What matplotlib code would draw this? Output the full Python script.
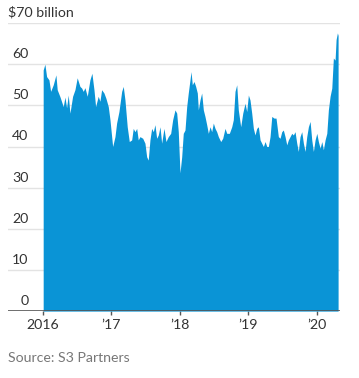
import matplotlib
matplotlib.use("Agg")
from matplotlib import pyplot as plt

# decimal year, value in $ billion
years = [2016.004, 2016.029, 2016.054, 2016.088, 2016.113, 2016.151, 2016.190, 2016.209,
         2016.249, 2016.297, 2016.322, 2016.346, 2016.370, 2016.395, 2016.434, 2016.468,
         2016.501, 2016.541, 2016.566, 2016.589, 2016.614, 2016.648, 2016.687, 2016.716,
         2016.746, 2016.770, 2016.808, 2016.833, 2016.858, 2016.892, 2016.921, 2016.955,
         2016.980, 2017.019, 2017.053, 2017.077, 2017.111, 2017.151, 2017.174, 2017.199,
         2017.232, 2017.262, 2017.297, 2017.320, 2017.345, 2017.370, 2017.393, 2017.418,
         2017.458, 2017.491, 2017.516, 2017.539, 2017.564, 2017.589, 2017.613, 2017.637,
         2017.662, 2017.686, 2017.711, 2017.735, 2017.769, 2017.798, 2017.832, 2017.867,
         2017.896, 2017.930, 2017.955, 2017.978, 2018.003, 2018.028, 2018.051, 2018.076,
         2018.101, 2018.124, 2018.149, 2018.164, 2018.183, 2018.208, 2018.232, 2018.256,
         2018.271, 2018.295, 2018.320, 2018.344, 2018.368, 2018.393, 2018.417, 2018.442,
         2018.466, 2018.490, 2018.515, 2018.539, 2018.563, 2018.598, 2018.627, 2018.661,
         2018.686, 2018.724, 2018.759, 2018.782, 2018.807, 2018.832, 2018.855, 2018.890,
         2018.920, 2018.953, 2018.978, 2019.002, 2019.026, 2019.051, 2019.075, 2019.099,
         2019.124, 2019.148, 2019.173, 2019.197, 2019.221, 2019.246, 2019.271, 2019.294,
         2019.319, 2019.344, 2019.377, 2019.406, 2019.440, 2019.465, 2019.490, 2019.513,
         2019.538, 2019.563, 2019.586, 2019.611, 2019.636, 2019.659, 2019.684, 2019.709,
         2019.732, 2019.757, 2019.782, 2019.806, 2019.830, 2019.855, 2019.879, 2019.904,
         2019.928, 2019.952, 2019.977, 2020.002, 2020.025, 2020.050, 2020.075, 2020.098,
         2020.123, 2020.148, 2020.171, 2020.196, 2020.221, 2020.244, 2020.269, 2020.284,
         2020.303, 2020.313]
values = [58.6, 60.0, 57.0, 56.2, 53.4, 55.0, 57.4, 53.8,
          52.1, 49.7, 52.0, 49.4, 52.5, 48.1, 52.2, 53.8,
          56.7, 54.6, 54.2, 53.4, 54.3, 52.2, 56.2, 57.8,
          53.8, 49.7, 52.2, 51.0, 53.8, 53.0, 51.7, 49.7,
          46.5, 40.0, 42.4, 45.7, 48.5, 53.4, 54.6, 51.3,
          44.8, 41.2, 41.6, 44.4, 43.6, 44.4, 41.6, 42.4,
          42.0, 40.8, 37.5, 36.7, 41.6, 44.4, 43.6, 45.3,
          42.0, 42.8, 44.8, 40.8, 44.4, 41.2, 42.4, 43.2,
          46.5, 48.9, 48.1, 43.6, 33.6, 37.5, 43.2, 44.0,
          49.7, 53.0, 56.2, 58.2, 55.0, 55.8, 54.6, 53.0,
          48.9, 51.3, 53.0, 48.9, 47.3, 45.3, 43.2, 44.8,
          43.6, 45.7, 44.4, 43.6, 42.4, 41.2, 42.0, 44.4,
          43.2, 43.2, 44.8, 46.5, 53.4, 55.0, 48.9, 44.8,
          48.1, 50.5, 48.5, 52.5, 51.3, 48.1, 44.4, 42.8,
          44.4, 44.8, 41.6, 40.8, 40.0, 41.2, 40.0, 40.0,
          42.4, 47.3, 46.9, 46.9, 42.4, 42.0, 43.6, 44.0,
          42.4, 40.4, 41.6, 42.4, 43.2, 42.8, 43.6, 40.8,
          38.8, 42.4, 43.6, 40.8, 38.8, 42.4, 44.8, 46.1,
          41.6, 38.8, 41.6, 43.2, 41.2, 39.6, 41.2, 39.2,
          41.6, 43.2, 48.9, 52.2, 54.2, 61.5, 61.0, 66.0,
          67.6, 67.0]

y_ticks = [0, 10, 20, 30, 40, 50, 60, 70]
x_ticks = [2016, 2017, 2018, 2019, 2020]
x_labels = ["2016", "\u201917", "\u201918", "\u201919", "\u201920"]

blue = "#0a94d6"
txt = "#333333"

plt.rcParams['font.family'] = ['Lato', 'DejaVu Sans']

fig = plt.figure(figsize=(3.59, 3.78), dpi=100)
ax = fig.add_axes([0.0223, 0.177, 0.925, 0.762])

ax.fill_between(years, values, 0, color=blue, linewidth=0, zorder=2)

xmin, xmax = 2015.49, 2020.342
ax.set_xlim(xmin, xmax)
ax.set_ylim(0, 70)

for t in y_ticks[1:]:
    ax.axhline(t, color="#e3e3e3", lw=1, zorder=1)
ax.axhline(0, color="#555555", lw=1.2, zorder=3)

for t in y_ticks[:-1]:
    ax.text(2015.79, t + 1.0, str(t), ha="right", va="bottom",
            fontsize=10.2, color=txt)
ax.text(xmin, 71.0, "$70 billion", ha="left", va="bottom", fontsize=10.2, color=txt)

ax.set_xticks(x_ticks)
ax.set_xticklabels(x_labels, fontsize=10.2, color=txt)
ax.tick_params(axis="x", length=3, width=1, color="#555555", pad=3)
ax.set_yticks([])
for s in ax.spines.values():
    s.set_visible(False)

fig.text(8 / 359, 1 - 358 / 378, "Source: S3 Partners", ha="left", va="center",
         fontsize=10.2, color="#777777")

fig.savefig("out.png", dpi=100)
